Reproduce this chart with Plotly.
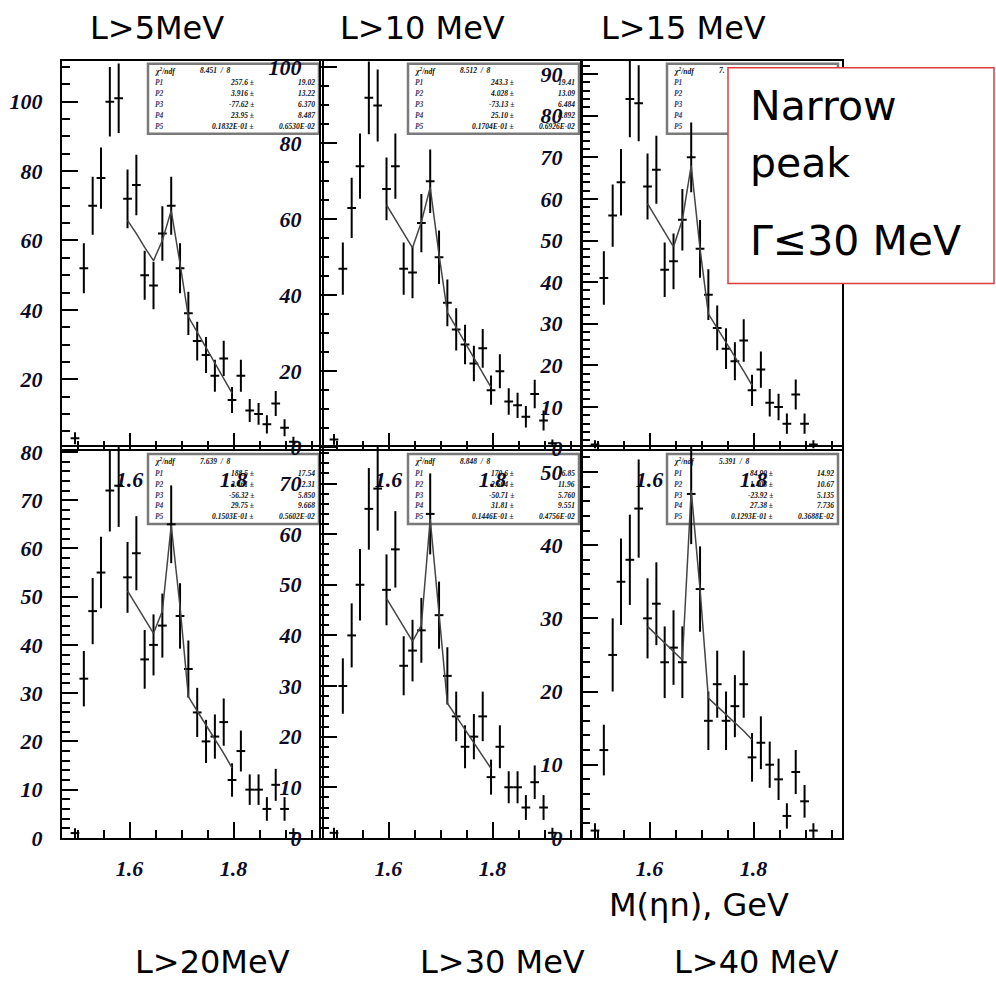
import numpy as np
import plotly.graph_objects as go

W, H = 996, 981

# ---------------- data ----------------
bin_centers = [1.495, 1.512, 1.529, 1.545, 1.562, 1.579, 1.596, 1.613, 1.629, 1.646,
               1.663, 1.680, 1.697, 1.713, 1.730, 1.747, 1.764, 1.781, 1.797, 1.814,
               1.831, 1.848, 1.864, 1.881, 1.898, 1.915]
fit_x = bin_centers[6:19]

counts_L5 = [3, 52, 70, 78, 100, 101, 72, 76, 50, 47, 62, 70, 52, 39, 31, 27, 21, 26, 14, 21, 11, 10, 7, 13, 6, 2]
counts_L10 = [2, 47, 63, 74, 92, 90, 68, 74, 47, 46, 59, 70, 50, 38, 31, 27, 22, 26, 15, 20, 12, 11, 8, 14, 7, 1]
counts_L15 = [1, 41, 56, 64, 84, 83, 63, 67, 43, 45, 55, 70, 48, 37, 29, 24, 21, 26, 14, 19, 11, 10, 6, 13, 6, 1]
counts_L20 = [1, 33, 47, 55, 72, 73, 54, 59, 37, 40, 44, 65, 46, 35, 26, 20, 21, 24, 12, 18, 10, 10, 6, 11, 6, 1]
counts_L30 = [1, 30, 40, 50, 65, 69, 49, 57, 34, 37, 41, 64, 44, 32, 24, 18, 20, 24, 12, 18, 10, 10, 6, 11, 6, 1]
counts_L40 = [1, 12, 25, 35, 38, 45, 30, 32, 24, 26, 24, 47, 34, 16, 21, 16, 18, 21, 11, 13, 10, 8, 3, 9, 5, 1]

fit_L5 = [65.8, 62, 58, 54.2, 60, 68.6, 53.3, 38, 33.6, 29.2, 24.8, 20.4, 16]
fit_L10 = [63.8, 60, 56.2, 52.5, 59.3, 68.4, 50.7, 35.5, 31.5, 27.5, 23.6, 19.6, 15.7]
fit_L15 = [58.9, 55.5, 52, 48.5, 55, 68, 48, 32.4, 29, 25.5, 22, 18.6, 15.2]
fit_L20 = [51.2, 48.2, 45.2, 42.4, 47, 64.8, 47.9, 29.3, 26.3, 23.4, 20.4, 17.5, 14.5]
fit_L30 = [47.3, 44.5, 41.6, 38.8, 42, 63, 44.3, 26.6, 24, 21.4, 18.8, 16.2, 13.7]
fit_L40 = [28.9, 27.75, 26.6, 25.45, 24.3, 47.5, 34, 19.1, 18, 16.9, 15.7, 14.6, 13.4]

panel_labels = ["L>5MeV", "L>10 MeV", "L>15 MeV", "L>20MeV", "L>30 MeV", "L>40 MeV"]

chi2_text = ["8.451  /  8", "8.512  /  8", "7.", "7.639  /  8", "8.848  /  8", "5.391  /  8"]
par_vals = [
    [("257.6", "19.02"), ("3.916", "13.22"), ("-77.62", "6.370"), ("23.95", "8.487"), ("0.1832E-01", "0.6530E-02")],
    [("243.3", "19.41"), ("4.028", "13.09"), ("-73.13", "6.484"), ("25.10", "8.892"), ("0.1704E-01", "0.6926E-02")],
    None,
    [("188.5", "17.54"), ("2.461", "12.31"), ("-56.32", "5.850"), ("29.75", "9.668"), ("0.1503E-01", "0.5602E-02")],
    [("170.6", "16.85"), ("2.504", "11.96"), ("-50.71", "5.760"), ("31.81", "9.551"), ("0.1446E-01", "0.4756E-02")],
    [("84.90", "14.92"), ("1.408", "10.67"), ("-23.92", "5.135"), ("27.38", "7.736"), ("0.1293E-01", "0.3688E-02")],
]

counts = [counts_L5, counts_L10, counts_L15, counts_L20, counts_L30, counts_L40]
fits = [fit_L5, fit_L10, fit_L15, fit_L20, fit_L30, fit_L40]

# ---------------- layout geometry (pixels) ----------------
def fx(px):
    return px / W

def fy(py):
    yl = (py - 6.1) / 0.9814
    return 1 - yl / H

cols = [(62, 322), (321, 581), (582, 842)]
rows = [(60, 448.5), (447, 838.5)]
y_ranges = [[0, 111.8], [-0.4, 101.75], [0, 93.2], [0, 81], [0, 77.2], [0, 53.4]]
y_major = [20, 20, 10, 10, 10, 10]
y_minor = [5, 5, 2, 2, 2, 2]

tick_font = dict(family="Liberation Serif, DejaVu Serif, serif", size=22,
                 color="#0b0b26", weight="bold", style="italic")

fig = go.Figure()
layout = dict(
    width=W, height=H,
    margin=dict(l=0, r=0, t=0, b=0),
    paper_bgcolor="white",
    plot_bgcolor="rgba(0,0,0,0)",
    showlegend=False,
)

annotations = []
shapes = []

for k in range(6):
    r, c = divmod(k, 3)
    sfx = "" if k == 0 else str(k + 1)
    c0, c1 = cols[c]
    r0, r1 = rows[r]
    vals = counts[k]
    errs = list(np.sqrt(vals))
    fig.add_trace(go.Scatter(
        x=bin_centers, y=vals, mode="markers",
        marker=dict(size=1, color="black"),
        error_y=dict(type="data", array=errs, visible=True, thickness=2, width=0, color="black"),
        error_x=dict(type="constant", value=0.0084, visible=True, thickness=2, width=0, color="black"),
        xaxis="x" + sfx, yaxis="y" + sfx, hoverinfo="skip",
    ))
    fig.add_trace(go.Scatter(
        x=fit_x, y=fits[k], mode="lines",
        line=dict(color="#444444", width=1.5),
        xaxis="x" + sfx, yaxis="y" + sfx, hoverinfo="skip",
    ))

    layout["xaxis" + sfx] = dict(
        domain=[fx(c0), fx(c1)], range=[1.47, 1.97], anchor="y" + sfx,
        tickvals=[1.6, 1.8], ticktext=["1.6", "1.8"],
        ticks="inside", ticklen=16, tickwidth=2, tickcolor="black",
        minor=dict(tick0=1.5, dtick=0.05, ticks="inside", ticklen=8, tickwidth=1.5, tickcolor="black"),
        showline=True, mirror=True, linewidth=2, linecolor="black",
        showgrid=False, zeroline=False, tickfont=tick_font, ticklabelstandoff=10,
    )
    lo, hi = y_ranges[k]
    step = y_major[k]
    start = step if k == 0 else 0
    tv = list(range(start, int(hi) + 1, step))
    layout["yaxis" + sfx] = dict(
        domain=[fy(r1), fy(r0)], range=[lo, hi], anchor="x" + sfx,
        tickvals=tv, ticktext=[str(v) for v in tv],
        ticks="inside", ticklen=16, tickwidth=2, tickcolor="black",
        minor=dict(tick0=0, dtick=y_minor[k], ticks="inside", ticklen=8, tickwidth=1.5, tickcolor="black"),
        showline=True, mirror=True, linewidth=2, linecolor="black",
        showgrid=False, zeroline=False, tickfont=tick_font, ticklabelstandoff=13,
    )

    # stats box
    bx0 = [148, 408, 667][c]
    bx1 = bx0 + 171
    by0 = [63, 454][r]
    by1 = by0 + 70
    shapes.append(dict(type="rect", xref="paper", yref="paper",
                       x0=fx(bx0), x1=fx(bx1), y0=fy(by1), y1=fy(by0),
                       line=dict(color="#7a7a7a", width=2.5), fillcolor="white", layer="below"))
    sfont = dict(family="Liberation Serif, serif", size=7.5, color="#111", weight="bold", style="italic")
    pfont = dict(family="Liberation Serif, serif", size=7.5, color="#3a3a7a", weight="bold", style="italic")
    row_y = [by0 + 7, by0 + 19, by0 + 30, by0 + 41, by0 + 52, by0 + 63]
    annotations.append(dict(text="χ<sup>2</sup>/ndf", xref="paper", yref="paper",
                            x=fx(bx0 + 5), y=fy(row_y[0]), xanchor="left", yanchor="middle",
                            showarrow=False, font=sfont))
    annotations.append(dict(text=chi2_text[k], xref="paper", yref="paper",
                            x=fx(bx0 + 50), y=fy(row_y[0]), xanchor="left", yanchor="middle",
                            showarrow=False, font=sfont))
    for j in range(5):
        annotations.append(dict(text="P%d" % (j + 1), xref="paper", yref="paper",
                                x=fx(bx0 + 5), y=fy(row_y[j + 1]), xanchor="left", yanchor="middle",
                                showarrow=False, font=pfont))
        if par_vals[k] is not None:
            v, e = par_vals[k][j]
            annotations.append(dict(text=v + " ±", xref="paper", yref="paper",
                                    x=fx(bx0 + 108), y=fy(row_y[j + 1]), xanchor="right", yanchor="middle",
                                    showarrow=False, font=sfont))
            annotations.append(dict(text=e, xref="paper", yref="paper",
                                    x=fx(bx1 - 2), y=fy(row_y[j + 1]), xanchor="right", yanchor="middle",
                                    showarrow=False, font=sfont))

# red box with text
shapes.append(dict(type="rect", xref="paper", yref="paper",
                   x0=fx(728), x1=fx(994), y0=fy(283), y1=fy(67),
                   line=dict(color="#e23b3b", width=1.5), fillcolor="white", layer="above"))
big = dict(family="DejaVu Sans, sans-serif", size=41, color="black")
for txt, py in [("Narrow", 105), ("peak", 162), ("Γ≤30 MeV", 241)]:
    annotations.append(dict(text=txt, xref="paper", yref="paper", x=fx(748), y=fy(py),
                            xanchor="left", yanchor="middle", showarrow=False, font=big))

lab = dict(family="DejaVu Sans, sans-serif", size=32, color="black")
label_pos = [(157, 27), (422, 27), (683, 27), (212, 963), (502, 963), (756, 963)]
for txt, (px, py) in zip(panel_labels, label_pos):
    annotations.append(dict(text=txt, xref="paper", yref="paper", x=fx(px), y=fy(py),
                            xanchor="center", yanchor="middle", showarrow=False, font=lab))
annotations.append(dict(text="M(ηn), GeV", xref="paper", yref="paper", x=fx(699), y=fy(906),
                        xanchor="center", yanchor="middle", showarrow=False, font=lab))

layout["annotations"] = annotations
layout["shapes"] = shapes
fig.update_layout(**layout)
fig.write_html("out.html")
